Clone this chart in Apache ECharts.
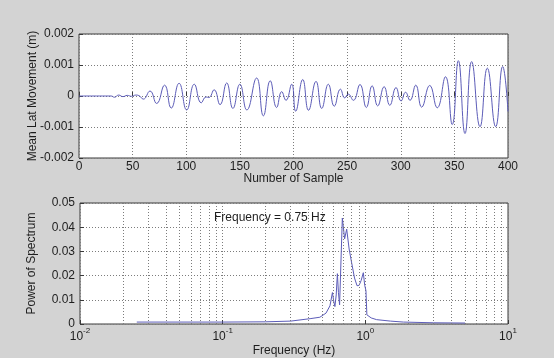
<!DOCTYPE html>
<html>
<head>
<meta charset="utf-8">
<script src="https://cdn.jsdelivr.net/npm/echarts@6/dist/echarts.min.js"></script>
<style>
  html, body { margin: 0; padding: 0; background: #d3d3d3; }
  #chart { width: 554px; height: 358px; }
</style>
</head>
<body>
<div id="chart"></div>
<script>
// Lateral movement: sample index and displacement (m) at the turning points of the trace
const sampleIdx = [
  0, 30, 33, 37, 41, 45, 49, 53, 56, 60,
  66.2, 72.4, 79.8, 86, 93.3, 100.4, 107.5, 114, 118.5, 121,
  126, 131.5, 137.7, 143.5, 150, 156.5, 165.6, 171.9, 178.3, 184.3,
  189, 193, 198.3, 202, 208.6, 214, 221, 226.3, 232.5, 238,
  243.8, 247.8, 251.1, 255.8, 262, 267.9, 273.3, 278.5, 284.5, 289.8,
  295.6, 300.3, 304.5, 308.6, 314, 319.5, 327, 334, 341.7, 348,
  353.7, 359.9, 366.1, 373.9, 380.7, 388.5, 395, 400
];
const movement = [
  0, 0, -0.00004, 0.00003, -0.00002, 0.00002, -0.00001, 0.00003, 0.00001, -0.0001,
  0.00016, -0.00024, 0.00035, -0.00039, 0.00041, -0.00045, 0.00038, -0.00022, -0.00003, -0.00005,
  0.0002, -0.00028, 0.00042, -0.0004, 0.00038, -0.00045, 0.00058, -0.00064, 0.00049, -0.00037,
  0.00014, -0.00014, 0.00038, -0.00049, 0.00053, -0.00046, 0.00047, -0.0004, 0.00038, -0.00033,
  0.00022, -0.00006, 0.00006, -0.00014, 0.00037, -0.00037, 0.00033, -0.00032, 0.0003, -0.0003,
  0.00027, -0.00016, 0.00012, -0.00014, 0.00035, -0.00036, 0.00034, -0.00038, 0.00062, -0.00092,
  0.00114, -0.00121, 0.00111, -0.00099, 0.0009, -0.00099, 0.00095, -0.0005
];

// Power spectrum: frequency (Hz) and power
const freqHz = [
  0.025, 0.1, 0.2, 0.3, 0.41, 0.48, 0.53, 0.565, 0.588, 0.6,
  0.612, 0.625, 0.637, 0.648, 0.66, 0.69, 0.716, 0.74, 0.77, 0.8,
  0.84, 0.875, 0.905, 0.935, 0.968, 0.99, 1.01, 1.025, 1.1, 1.2,
  1.5, 1.85, 3, 5
];
const power = [
  0.0008, 0.0008, 0.0009, 0.0012, 0.0022, 0.0028, 0.0045, 0.0075, 0.013, 0.0095,
  0.0072, 0.012, 0.0208, 0.013, 0.0079, 0.0438, 0.0352, 0.0392, 0.031, 0.0256,
  0.019, 0.0158, 0.016, 0.018, 0.0212, 0.016, 0.0138, 0.0038, 0.0025, 0.0018,
  0.0012, 0.0008, 0.0005, 0.0004
];

// Tick values
const sampleTicks = [0, 50, 100, 150, 200, 250, 300, 350, 400];
const movementTicks = [-0.002, -0.001, 0, 0.001, 0.002];
const powerTicks = [0, 0.01, 0.02, 0.03, 0.04, 0.05];
const freqDecades = [0.01, 0.1, 1, 10];
const freqMinorGrid = [
  0.02, 0.03, 0.04, 0.05, 0.06, 0.07, 0.08, 0.09,
  0.2, 0.3, 0.4, 0.5, 0.6, 0.7, 0.8, 0.9,
  2, 3, 4, 5, 6, 7, 8, 9
];
const peakNote = 'Frequency = 0.75 Hz';

const FONT = '"Liberation Sans", Arial, sans-serif';
const TXT = '#1e1e1e';
const LINE = '#5c5cb8';
const BOX = '#3a3a3a';
const GRIDLINE = { color: '#7c7c7c', type: [1, 2], width: 1 };

const chart = echarts.init(document.getElementById('chart'), null, { renderer: 'canvas' });

const labelCommon = { color: TXT, fontFamily: FONT, fontSize: 12 };

const option = {
  backgroundColor: '#d3d3d3',
  animation: false,
  grid: [
    { left: 79, top: 34, width: 429, height: 124, show: true, backgroundColor: '#ffffff', borderColor: BOX, borderWidth: 1 },
    { left: 80, top: 203, width: 428, height: 123, show: true, backgroundColor: '#ffffff', borderColor: BOX, borderWidth: 1 }
  ],
  xAxis: [
    {
      type: 'value', gridIndex: 0,
      min: sampleTicks[0], max: sampleTicks[sampleTicks.length - 1], interval: 50,
      name: 'Number of Sample', nameLocation: 'middle', nameGap: 15, nameMoveOverlap: false,
      nameTextStyle: labelCommon,
      axisLine: { show: false },
      axisTick: { show: true, inside: true, length: 4, lineStyle: { color: BOX } },
      axisLabel: Object.assign({ margin: 3 }, labelCommon),
      splitLine: { show: true, lineStyle: GRIDLINE }
    },
    {
      type: 'log', gridIndex: 1, logBase: 10,
      min: freqDecades[0], max: freqDecades[freqDecades.length - 1],
      name: 'Frequency (Hz)', nameLocation: 'middle', nameGap: 21, nameMoveOverlap: false,
      nameTextStyle: labelCommon,
      axisLine: { show: false },
      axisTick: { show: true, inside: true, length: 4, lineStyle: { color: BOX } },
      axisLabel: Object.assign({
        margin: 3,
        formatter: function (v) {
          const e = Math.round(Math.log10(v));
          return '{b|10}{s|' + e + '}';
        },
        rich: {
          b: { fontFamily: FONT, fontSize: 12, color: TXT, verticalAlign: 'bottom', lineHeight: 16 },
          s: { fontFamily: FONT, fontSize: 8, color: TXT, verticalAlign: 'top', lineHeight: 16, padding: [0, 0, 6, 0] }
        }
      }, labelCommon),
      splitLine: { show: true, lineStyle: GRIDLINE }
    }
  ],
  yAxis: [
    {
      type: 'value', gridIndex: 0,
      min: movementTicks[0], max: movementTicks[movementTicks.length - 1], interval: 0.001,
      name: 'Mean Lat Movement (m)', nameLocation: 'middle', nameGap: 40, nameMoveOverlap: false,
      nameTextStyle: labelCommon,
      axisLine: { show: false },
      axisTick: { show: true, inside: true, length: 4, lineStyle: { color: BOX } },
      axisLabel: Object.assign({
        margin: 5,
        formatter: function (v) { return String(parseFloat(v.toFixed(3))); }
      }, labelCommon),
      splitLine: { show: true, lineStyle: GRIDLINE }
    },
    {
      type: 'value', gridIndex: 1,
      min: powerTicks[0], max: powerTicks[powerTicks.length - 1], interval: 0.01,
      name: 'Power of Spectrum', nameLocation: 'middle', nameGap: 42, nameMoveOverlap: false,
      nameTextStyle: labelCommon,
      axisLine: { show: false },
      axisTick: { show: true, inside: true, length: 4, lineStyle: { color: BOX } },
      axisLabel: Object.assign({
        margin: 5,
        formatter: function (v) { return v === 0 ? '0' : v.toFixed(2); }
      }, labelCommon),
      splitLine: { show: true, lineStyle: GRIDLINE }
    }
  ],
  series: [
    {
      name: 'movement', type: 'line', xAxisIndex: 0, yAxisIndex: 0,
      data: sampleIdx.map((s, i) => [s, movement[i]]),
      smooth: 0.5, showSymbol: false, symbol: 'none',
      lineStyle: { color: LINE, width: 1 }, z: 3
    },
    {
      // dotted log-decade subdivisions of the frequency axis
      name: 'freqGrid', type: 'line', xAxisIndex: 1, yAxisIndex: 1,
      data: [], silent: true, z: 1,
      markLine: {
        silent: true, symbol: ['none', 'none'], animation: false,
        label: { show: false },
        lineStyle: GRIDLINE,
        emphasis: { disabled: true },
        data: freqMinorGrid.map(v => ({ xAxis: v }))
      }
    },
    {
      name: 'spectrum', type: 'line', xAxisIndex: 1, yAxisIndex: 1,
      data: freqHz.map((f, i) => [f, power[i]]),
      showSymbol: false, symbol: 'none',
      lineStyle: { color: LINE, width: 1 }, z: 3
    }
  ],
  graphic: [
    {
      type: 'text', left: 214, top: 212, z: 10,
      style: { text: peakNote, font: '12px ' + FONT, fill: TXT }
    }
  ]
};

chart.setOption(option);
</script>
</body>
</html>
